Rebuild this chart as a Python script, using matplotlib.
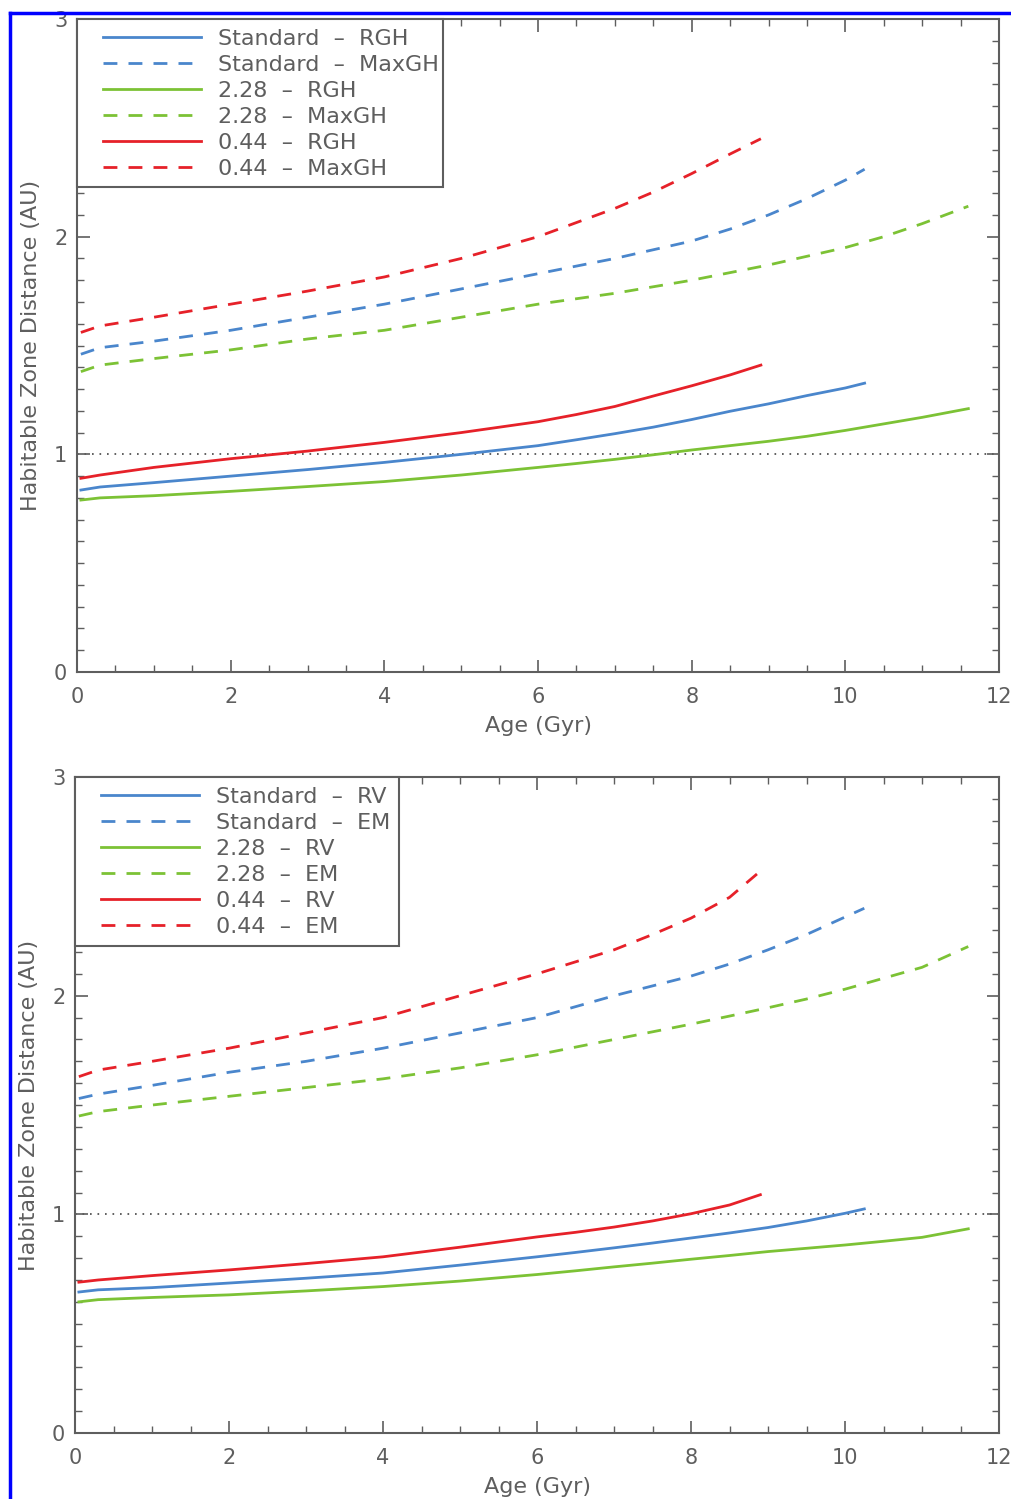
import numpy as np
import matplotlib
matplotlib.use('Agg')
import matplotlib.pyplot as plt
from matplotlib.lines import Line2D
from matplotlib.patches import Rectangle
from matplotlib.ticker import MultipleLocator

# stellar ages (Gyr) sampled along each evolutionary track
age_std = [0.05, 0.3, 1, 2, 3, 4, 5, 6, 6.5, 7, 7.5, 8, 8.5, 9, 9.5, 10, 10.25]
age_228 = [0.05, 0.3, 1, 2, 3, 4, 5, 6, 6.5, 7, 7.5, 8, 8.5, 9, 9.5, 10, 10.5, 11, 11.6]
age_044 = [0.05, 0.3, 1, 2, 3, 4, 5, 6, 6.5, 7, 7.5, 8, 8.5, 8.9]

# upper panel: runaway greenhouse / maximum greenhouse limits (AU)
std_rgh = [0.836, 0.85, 0.87, 0.90, 0.93, 0.963, 1.00, 1.04, 1.067, 1.095, 1.125, 1.16,
           1.198, 1.232, 1.27, 1.305, 1.327]
std_maxgh = [1.46, 1.49, 1.52, 1.57, 1.63, 1.69, 1.76, 1.83, 1.865, 1.90, 1.94, 1.98,
             2.035, 2.10, 2.175, 2.26, 2.31]
m228_rgh = [0.79, 0.80, 0.81, 0.83, 0.852, 0.875, 0.905, 0.94, 0.958, 0.977, 0.998, 1.02,
            1.04, 1.06, 1.083, 1.11, 1.14, 1.17, 1.21]
m228_maxgh = [1.38, 1.41, 1.44, 1.48, 1.53, 1.57, 1.63, 1.69, 1.715, 1.74, 1.77, 1.80,
              1.835, 1.87, 1.91, 1.95, 2.00, 2.06, 2.14]
m044_rgh = [0.89, 0.905, 0.94, 0.98, 1.015, 1.055, 1.10, 1.15, 1.183, 1.22, 1.268, 1.315,
            1.365, 1.41]
m044_maxgh = [1.56, 1.59, 1.63, 1.69, 1.75, 1.815, 1.90, 2.00, 2.065, 2.13, 2.205, 2.29,
              2.38, 2.45]

# lower panel: recent Venus / early Mars limits (AU)
std_rv = [0.645, 0.655, 0.665, 0.686, 0.708, 0.732, 0.768, 0.806, 0.826, 0.847, 0.869,
          0.892, 0.915, 0.94, 0.97, 1.005, 1.025]
std_em = [1.53, 1.55, 1.59, 1.65, 1.70, 1.76, 1.83, 1.90, 1.95, 2.00, 2.045, 2.09,
          2.145, 2.21, 2.28, 2.36, 2.40]
m228_rv = [0.60, 0.61, 0.62, 0.632, 0.65, 0.67, 0.695, 0.725, 0.742, 0.76, 0.777, 0.795,
           0.812, 0.83, 0.845, 0.86, 0.877, 0.895, 0.934]
m228_em = [1.45, 1.47, 1.50, 1.54, 1.58, 1.62, 1.67, 1.73, 1.765, 1.80, 1.835, 1.87,
           1.907, 1.945, 1.985, 2.03, 2.08, 2.13, 2.225]
m044_rv = [0.69, 0.70, 0.72, 0.746, 0.775, 0.806, 0.85, 0.897, 0.918, 0.942, 0.97, 1.003,
           1.043, 1.09]
m044_em = [1.63, 1.66, 1.70, 1.76, 1.83, 1.90, 2.00, 2.10, 2.155, 2.21, 2.28, 2.355,
           2.45, 2.57]

BLUE = '#4a86cc'
GREEN = '#7cc235'
RED = '#e62129'
GREY = '#5e5e5e'


def draw_panel(ax, tracks, inner, outer, box_w):
    for label, ages, lo, hi, color in tracks:
        ax.plot(ages, lo, color=color, lw=2.0, label=f'{label}  –  {inner}')
        ax.plot(ages, hi, color=color, lw=2.0, ls=(0, (5, 4)), label=f'{label}  –  {outer}')

    ax.axhline(1.0, color='#444444', lw=1.2, ls=(0, (1, 3.5)), zorder=1)

    ax.set_xlim(0, 12)
    ax.set_ylim(0, 3)
    ax.xaxis.set_major_locator(MultipleLocator(2))
    ax.xaxis.set_minor_locator(MultipleLocator(0.5))
    ax.yaxis.set_major_locator(MultipleLocator(1))
    ax.yaxis.set_minor_locator(MultipleLocator(0.1))
    ax.tick_params(which='both', direction='in', top=True, right=True,
                   color=GREY, labelcolor=GREY, labelsize=15)
    ax.tick_params(which='major', length=9, width=1.2)
    ax.tick_params(which='minor', length=5, width=1.0)
    ax.tick_params(axis='x', pad=11)
    ax.tick_params(axis='y', pad=7)
    for sp in ax.spines.values():
        sp.set_color(GREY)
        sp.set_linewidth(1.5)

    ax.set_xlabel('Age (Gyr)', fontsize=16, color=GREY, labelpad=6)
    ax.set_ylabel('Habitable Zone Distance (AU)', fontsize=16, color=GREY)
    ax.yaxis.set_label_coords(-0.039, 0.5)

    # legend box hugs the upper-left corner of the axes
    ax.add_patch(Rectangle((0, 1 - 0.257), box_w, 0.257, transform=ax.transAxes,
                           facecolor='white', edgecolor=GREY, lw=1.5, zorder=3,
                           clip_on=False))
    leg = ax.legend(loc='upper left', bbox_to_anchor=(0.028, 0.985), borderaxespad=0,
                    fontsize=16, handlelength=4.4, handletextpad=0.8,
                    labelspacing=0.27, borderpad=0, frameon=False)
    leg.set_zorder(4)
    for t in leg.get_texts():
        t.set_color(GREY)


fig = plt.figure(figsize=(10.11, 14.99), dpi=100)

ax1 = fig.add_axes([0.0762, 0.5517, 0.912, 0.4356])
draw_panel(ax1, [
    ('Standard', age_std, std_rgh, std_maxgh, BLUE),
    ('2.28', age_228, m228_rgh, m228_maxgh, GREEN),
    ('0.44', age_044, m044_rgh, m044_maxgh, RED),
], 'RGH', 'MaxGH', 0.397)

ax2 = fig.add_axes([0.0742, 0.044, 0.914, 0.4376])
draw_panel(ax2, [
    ('Standard', age_std, std_rv, std_em, BLUE),
    ('2.28', age_228, m228_rv, m228_em, GREEN),
    ('0.44', age_044, m044_rv, m044_em, RED),
], 'RV', 'EM', 0.351)

# blue frame along the top and left edges
fig.add_artist(Line2D([0.0099, 1.0], [0.9913, 0.9913], color='#0000ff', lw=2.5,
                      transform=fig.transFigure))
fig.add_artist(Line2D([0.0099, 0.0099], [0.0, 0.9913], color='#0000ff', lw=2.5,
                      transform=fig.transFigure))

fig.savefig('out.png', dpi=100)
